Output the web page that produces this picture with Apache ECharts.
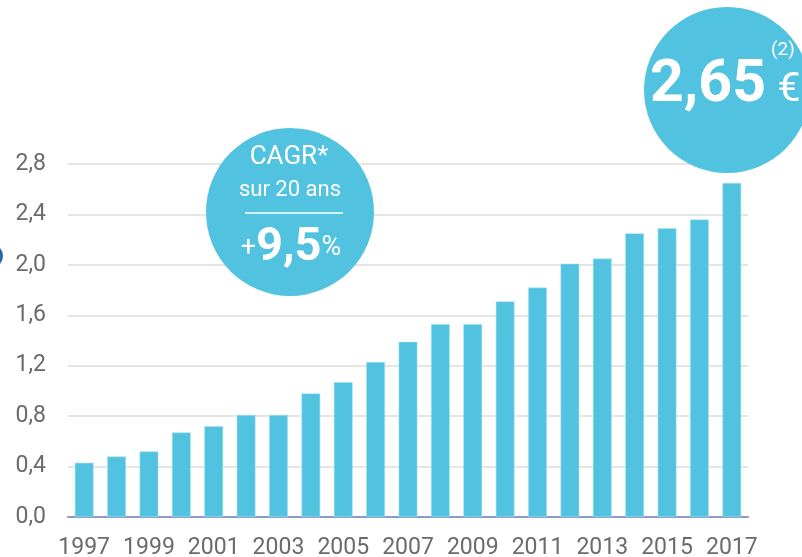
<!DOCTYPE html>
<html>
<head>
<meta charset="utf-8">
<script src="https://cdn.jsdelivr.net/npm/echarts@6/dist/echarts.min.js"></script>
<style>
  html, body { margin: 0; padding: 0; background: #fff; }
  #root { width: 802px; height: 557px; }
</style>
</head>
<body>
<div id="root"></div>
<script>
const years = ["1997", "1998", "1999", "2000", "2001", "2002", "2003", "2004", "2005", "2006", "2007",
  "2008", "2009", "2010", "2011", "2012", "2013", "2014", "2015", "2016", "2017"];
const dividend = [0.43, 0.48, 0.52, 0.67, 0.72, 0.81, 0.81, 0.98, 1.07, 1.23, 1.39,
  1.53, 1.53, 1.71, 1.82, 2.01, 2.05, 2.25, 2.29, 2.36, 2.65];

const barColor = "#51c3e0";
const textGrey = "#6b6b6b";

const chart = echarts.init(document.getElementById("root"));

chart.setOption({
  animation: false,
  grid: { left: 68, right: 54, top: 164, bottom: 40, outerBoundsMode: "none" },
  xAxis: {
    type: "category",
    data: years,
    axisLine: { lineStyle: { color: "#8b9bc8", width: 2 } },
    axisTick: { interval: 0, length: 7, lineStyle: { color: "#8b9bc8", width: 2 } },
    axisLabel: {
      interval: 1,
      color: textGrey,
      fontFamily: "Roboto",
      fontSize: 23,
      margin: 20
    }
  },
  yAxis: {
    type: "value",
    min: 0,
    max: 2.8,
    interval: 0.4,
    axisLine: { show: false },
    axisTick: { show: false },
    splitLine: { lineStyle: { color: "#dddddd", width: 1.5 } },
    axisLabel: {
      color: textGrey,
      fontFamily: "Roboto",
      fontSize: 23,
      margin: 22,
      formatter: v => v.toFixed(1).replace(".", ",")
    }
  },
  series: [{
    type: "bar",
    data: dividend,
    barWidth: "58%",
    itemStyle: { color: barColor, borderColor: "#a8e2f0", borderWidth: 0.6 }
  }],
  graphic: [
    // dark blue marker cut by left edge
    { type: "circle", shape: { cx: -9, cy: 256, r: 12 }, style: { fill: "#2f62ad" }, z: 10 },
    // CAGR bubble
    { type: "circle", shape: { cx: 290, cy: 212, r: 84 }, style: { fill: barColor }, z: 10 },
    {
      type: "text", x: 289, y: 157, z: 11,
      style: { text: "CAGR*", fill: "#fff", font: "26px Roboto", align: "center", verticalAlign: "middle" }
    },
    {
      type: "text", x: 290, y: 190, z: 11,
      style: { text: "sur 20 ans", fill: "#fff", font: "22px Roboto", align: "center", verticalAlign: "middle" }
    },
    { type: "line", shape: { x1: 245, y1: 213, x2: 343, y2: 213 }, style: { stroke: "#fff", lineWidth: 1.5 }, z: 11 },
    {
      type: "text", x: 291, y: 248, z: 11,
      style: {
        text: "{s|+}{b|9,5}{s|%}",
        align: "center", verticalAlign: "middle",
        rich: {
          s: { fill: "#fff", fontFamily: "Roboto", fontSize: 27 },
          b: { fill: "#fff", fontFamily: "Roboto", fontWeight: "bold", fontSize: 47 }
        }
      }
    },
    // 2,65 € bubble
    { type: "circle", shape: { cx: 727, cy: 90, r: 83 }, style: { fill: barColor }, z: 10 },
    {
      type: "text", x: 708, y: 86, z: 11,
      style: { text: "2,65", fill: "#fff", font: "bold 59px Roboto", align: "center", verticalAlign: "middle" }
    },
    {
      type: "text", x: 789, y: 91, z: 11,
      style: { text: "€", fill: "#fff", font: "41px Roboto", align: "center", verticalAlign: "middle" }
    },
    {
      type: "text", x: 783, y: 50, z: 11,
      style: { text: "(2)", fill: "#fff", font: "19px Roboto", align: "center", verticalAlign: "middle" }
    }
  ]
});
</script>
</body>
</html>
